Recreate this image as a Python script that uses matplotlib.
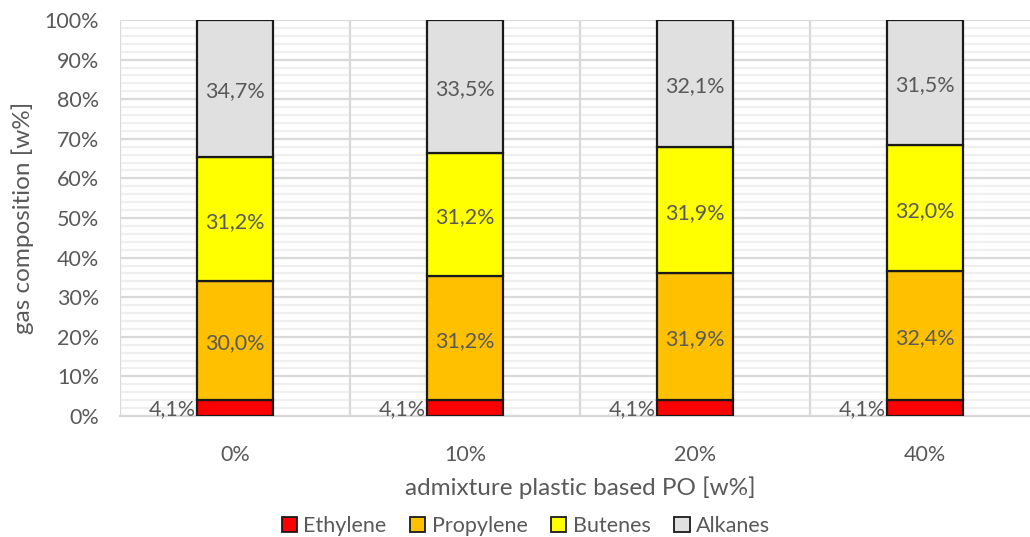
import matplotlib
matplotlib.use("Agg")
import matplotlib.pyplot as plt
from matplotlib.ticker import MultipleLocator, FuncFormatter
from matplotlib.patches import Patch

categories = ["0%", "10%", "20%", "40%"]
series_names = ["Ethylene", "Propylene", "Butenes", "Alkanes"]
ethylene = [4.1, 4.1, 4.1, 4.1]
propylene = [30.0, 31.2, 31.9, 32.4]
butenes = [31.2, 31.2, 31.9, 32.0]
alkanes = [34.7, 33.5, 32.1, 31.5]
colors = ["#FF0000", "#FFC000", "#FFFF00", "#E0E0E0"]

text_color = "#595959"
plt.rcParams["font.family"] = ["Lato", "DejaVu Sans"]

fig = plt.figure(figsize=(10.30, 5.37), dpi=100)
ax = fig.add_axes([120 / 1030, 1 - 416 / 537, 920 / 1030, 396 / 537])
ax.set_axisbelow(True)

x = list(range(len(categories)))
width = 0.33
series = [ethylene, propylene, butenes, alkanes]
bottom = [0.0] * len(categories)
for name, vals, col in zip(series_names, series, colors):
    ax.bar(x, vals, width, bottom=bottom, color=col, edgecolor="#1a1a1a",
           linewidth=1.6, zorder=3, label=name)
    for i, v in enumerate(vals):
        label = f"{v:.1f}%".replace(".", ",")
        if name == "Ethylene":
            ax.annotate(label, (i - width / 2, bottom[i] + v / 2), xytext=(-1, -1),
                        textcoords="offset points", ha="right", va="center",
                        fontsize=15.5, color=text_color, zorder=4)
        else:
            ax.annotate(label, (i, bottom[i] + v / 2), xytext=(0, -2),
                        textcoords="offset points", ha="center", va="center",
                        fontsize=15.5, color=text_color, zorder=4)
    bottom = [b + v for b, v in zip(bottom, vals)]

ax.set_xlim(-0.5, len(categories) - 0.5)
ax.set_ylim(0, 100)
ax.yaxis.set_major_locator(MultipleLocator(10))
ax.yaxis.set_minor_locator(MultipleLocator(2))
ax.yaxis.set_major_formatter(FuncFormatter(lambda v, p: f"{v:.0f}%"))
ax.set_xticks(x)
ax.set_xticklabels(categories)

ax.grid(axis="y", which="minor", color="#EFEFEF", linewidth=1.6)
ax.grid(axis="y", which="major", color="#D9D9D9", linewidth=1.6)
ax.grid(axis="x", which="major", visible=False)
# category separators drawn above the horizontal gridlines
for b in range(len(categories) + 1):
    ax.axvline(b - 0.5, color="#D9D9D9", linewidth=1.6, zorder=1)

for side in ["top", "right", "left"]:
    ax.spines[side].set_visible(False)
ax.spines["bottom"].set_color("#D9D9D9")
ax.spines["bottom"].set_linewidth(1.6)

ax.tick_params(axis="both", which="both", length=0, colors=text_color, labelsize=15.5)
ax.tick_params(axis="x", pad=21)
ax.tick_params(axis="y", pad=15)

ax.set_ylabel("gas composition [w%]", fontsize=17.5, color=text_color, labelpad=8)
ax.set_xlabel("admixture plastic based PO [w%]", fontsize=17.5, color=text_color, labelpad=8)

handles = [Patch(facecolor=c, edgecolor="#1a1a1a", linewidth=1.3) for c in colors]
fig.legend(handles, series_names, loc="center", bbox_to_anchor=(526 / 1030, 1 - 526 / 537),
           ncol=4, frameon=False, fontsize=15.5, labelcolor=text_color,
           handlelength=0.7, handleheight=0.7, handletextpad=0.3, columnspacing=1.1)

fig.savefig("out.png", dpi=100)
